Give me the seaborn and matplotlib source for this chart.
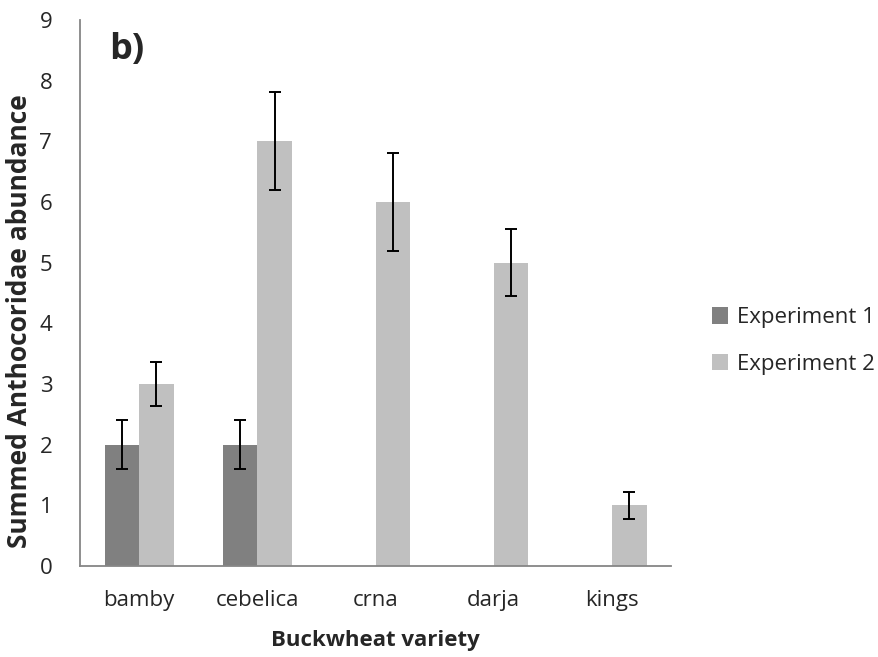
import numpy as np
import pandas as pd
import seaborn as sns
import matplotlib.pyplot as plt

# Datos del grafico
variedades = ['bamby', 'cebelica', 'crna', 'darja', 'kings']
exp1 = [2, 2, 0, 0, 0]
exp2 = [3, 7, 6, 5, 1]
err1 = [0.4, 0.4, 0, 0, 0]
err2 = [0.37, 0.81, 0.8, 0.55, 0.22]
series = ['Experiment 1', 'Experiment 2']

datos = pd.DataFrame({
    'variedad': variedades * 2,
    'valor': exp1 + exp2,
    'serie': [series[0]] * 5 + [series[1]] * 5,
})

sns.set_style('white')
plt.rcParams['font.family'] = ['Open Sans', 'DejaVu Sans']

fig = plt.figure(figsize=(8.79, 6.57), dpi=100)
ax = fig.add_axes([0.091, 0.1385, 0.6724, 0.8311])

sns.barplot(data=datos, x='variedad', y='valor', hue='serie',
            palette=['#808080', '#c0c0c0'], width=0.585, saturation=1,
            errorbar=None, linewidth=0, ax=ax)

# barras de error
for cont, errs in zip(ax.containers, [err1, err2]):
    xs = [b.get_x() + b.get_width() / 2 for b in cont]
    ys = [b.get_height() for b in cont]
    xs = [x for x, e in zip(xs, errs) if e > 0]
    ys2 = [y for y, e in zip(ys, errs) if e > 0]
    es = [e for e in errs if e > 0]
    ax.errorbar(xs, ys2, yerr=es, fmt='none', ecolor='black',
                elinewidth=1.4, capsize=4.5, capthick=1.4)

ax.set_ylim(0, 9)
ax.set_yticks(range(0, 10))
ax.set_xlim(-0.5, 4.5)
ax.set_xticks(np.arange(-0.5, 5, 1), minor=True)

sns.despine(ax=ax)
for s in ['left', 'bottom']:
    ax.spines[s].set_color('#868686')
    ax.spines[s].set_linewidth(1.3)

ax.tick_params(axis='y', which='major', direction='out', length=7, width=1.3,
               color='#868686', labelsize=16, pad=13)
ax.tick_params(axis='x', which='major', length=0, labelsize=16, pad=17)
ax.tick_params(axis='x', which='minor', direction='out', length=9, width=1.3,
               color='#868686')

ax.set_xlabel('Buckwheat variety', fontsize=16, fontweight='bold', labelpad=14)
ax.set_ylabel('Summed Anthocoridae abundance', fontsize=19, fontweight='bold')
ax.yaxis.set_label_coords(-0.08, 0.449)

ax.text(0.05, 0.945, 'b)', transform=ax.transAxes, fontsize=26,
        fontweight='bold', va='center')

ax.legend(loc='center left', bbox_to_anchor=(1.035, 0.412), frameon=False,
          fontsize=16, handlelength=0.75, handleheight=0.75, labelspacing=1.15,
          handletextpad=0.4)

fig.savefig('out.png', dpi=100)
